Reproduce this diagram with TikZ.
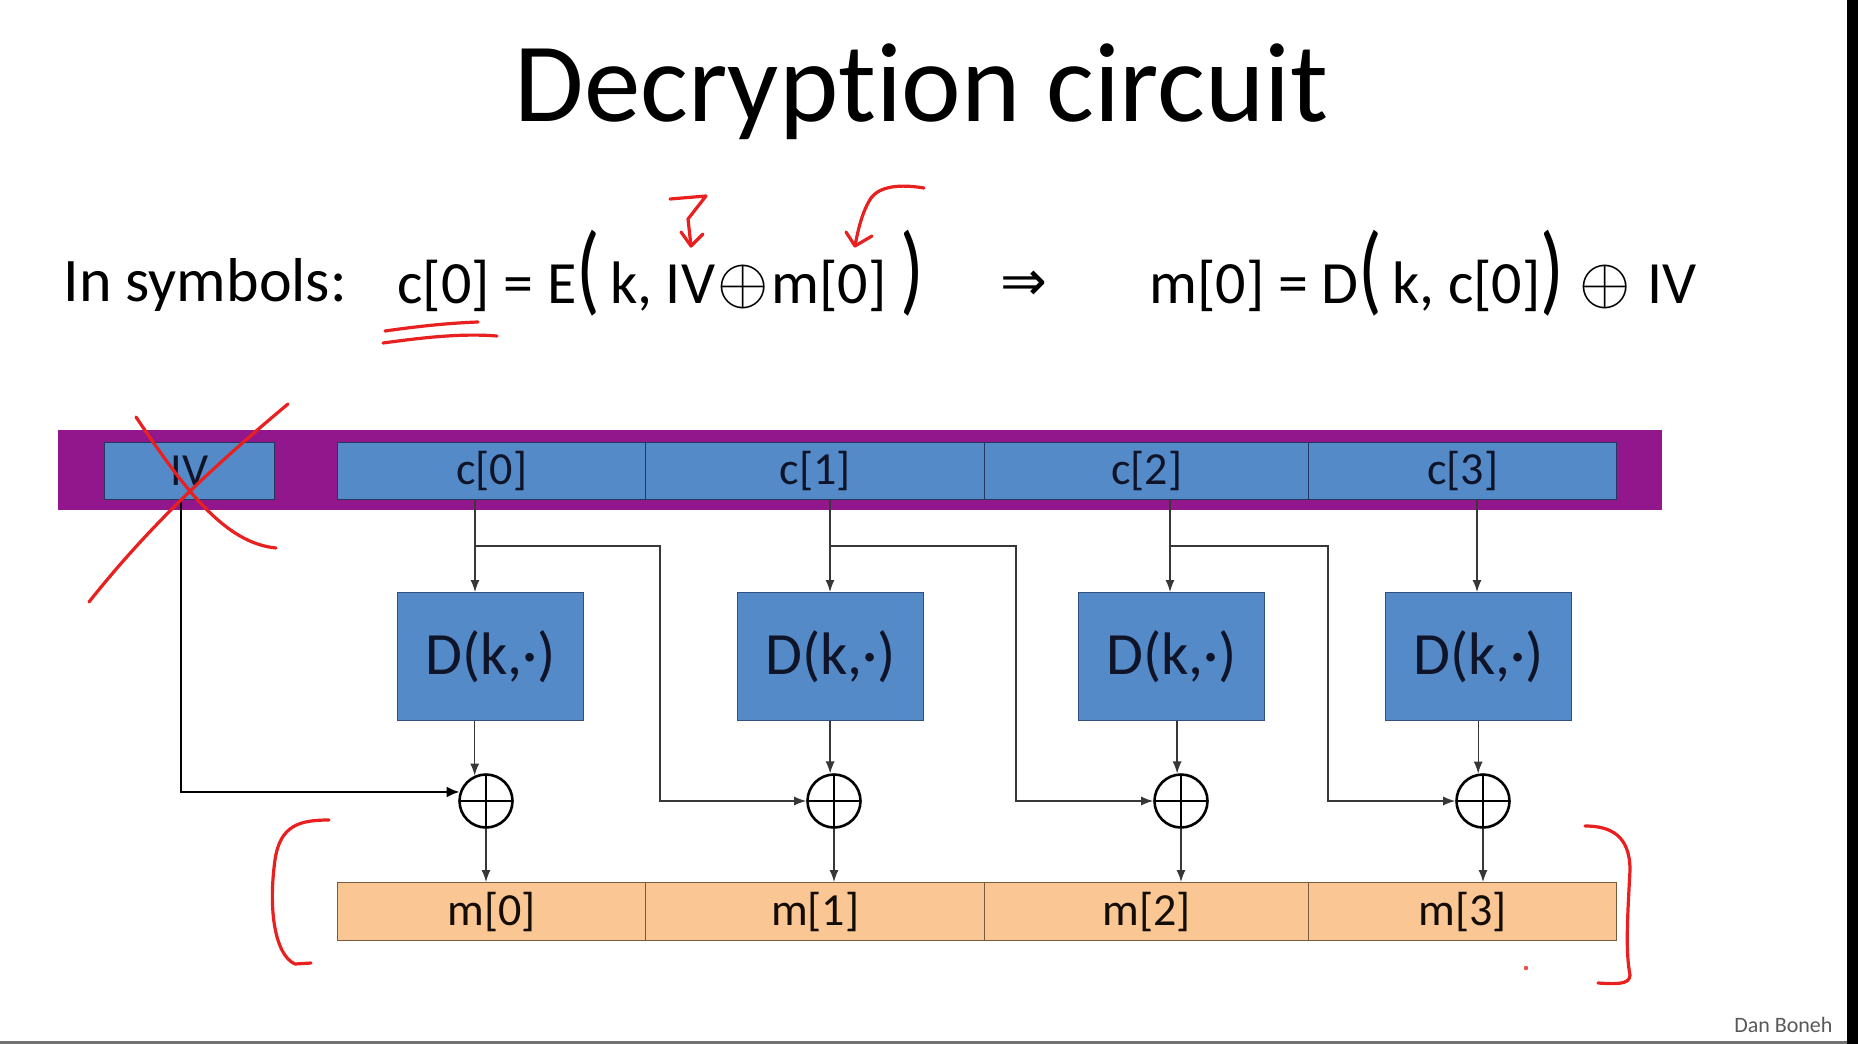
\documentclass[tikz,border=0pt]{standalone}
\usepackage{fontspec}
\usepackage{graphicx}
\setmainfont{Carlito}[Ligatures={NoCommon}]
\newfontfamily\symfont{DejaVu Sans}
\usetikzlibrary{arrows.meta,calc}
\definecolor{bandpurple}{RGB}{146,22,140}
\definecolor{boxblue}{RGB}{84,138,200}
\definecolor{boxedge}{RGB}{35,55,95}
\definecolor{msgfill}{RGB}{250,198,148}
\definecolor{msgedge}{RGB}{120,90,60}
\definecolor{inkred}{RGB}{232,32,32}
\definecolor{wirecol}{RGB}{55,55,55}
\definecolor{navytext}{RGB}{15,20,40}
\newcommand\bigparen[1]{\raisebox{1pt}{\scalebox{1.3}[1.65]{#1}}}
\newcommand\xorsym{\kern2pt\scalebox{6.6}{\fontsize{10}{12}\selectfont$\oplus$}\kern3pt}
\tikzset{
  cbox/.style={draw=boxedge, line width=1.4pt, fill=boxblue, minimum height=57pt, inner sep=0pt, anchor=north west, text=navytext, font=\fontsize{46}{46}\selectfont},
  dbox/.style={draw=boxedge!70!boxblue, line width=1.3pt, fill=boxblue, minimum width=186pt, minimum height=128pt, inner sep=0pt, anchor=north west, text=navytext, font=\fontsize{60}{60}\selectfont},
  mbox/.style={draw=msgedge, line width=1.3pt, fill=msgfill, minimum height=58pt, inner sep=0pt, anchor=north west, text=black!90!brown, font=\fontsize{46}{46}\selectfont},
  xorn/.style={circle, draw=black, line width=2.6pt, minimum size=53pt, inner sep=0pt,
    path picture={\draw[line width=2.4pt] (path picture bounding box.north) -- (path picture bounding box.south) (path picture bounding box.west) -- (path picture bounding box.east);}},
  wire/.style={draw=wirecol, line width=1.3pt},
  arr/.style={wire, -{Latex[length=12pt,width=9pt]}},
  ivarr/.style={draw=black, line width=2.6pt, -{Latex[length=13pt,width=11pt]}},
  redink/.style={draw=inkred, line width=3.2pt, line cap=round, line join=round},
  bigtext/.style={anchor=base west, font=\fontsize{62}{62}\selectfont},
}
\begin{document}
\begin{tikzpicture}[x=1pt,y=-1pt]
\fill[white] (0,0) rectangle (1858,1044);
\useasboundingbox (0,0) rectangle (1858,1044);
\fill[black] (1847,0) rectangle (1858,1044);
\fill[black!55] (0,1041) rectangle (1847,1044);

% title and formulas
\node[anchor=base west, font=\fontsize{113}{113}\selectfont] (title) at (511,121) {Decryption circuit};
\node[bigtext] (insym) at (60,301) {In symbols:};
\node[bigtext, font=\fontsize{60}{60}\selectfont] (eq1) at (394,303) {c[0] = E\bigparen{(}\,k, IV\xorsym m[0] \bigparen{)}};
\node[font=\symfont\fontsize{56}{56}\selectfont] (impl) at (1024,286) {⇒};
\node[bigtext, font=\fontsize{60}{60}\selectfont] (eq2) at (1146,303) {m[0] = D\bigparen{(}\,k, c[0]\bigparen{)} \xorsym{} IV};

% purple band and ciphertext blocks
\node[fill=bandpurple, minimum width=1604pt, minimum height=80pt, inner sep=0pt, anchor=north west] (band) at (58,430) {};
\node[cbox, minimum width=170pt] (IV) at (104,442) {IV};
\node[cbox, minimum width=308pt] (c0) at (337,442) {c[0]};
\node[cbox, minimum width=339pt] (c1) at (645,442) {c[1]};
\node[cbox, minimum width=324pt] (c2) at (984,442) {c[2]};
\node[cbox, minimum width=308pt] (c3) at (1308,442) {c[3]};

% decryption boxes
\node[dbox] (D0) at (397,592) {D(k,·)};
\node[dbox] (D1) at (737,592) {D(k,·)};
\node[dbox] (D2) at (1078,592) {D(k,·)};
\node[dbox] (D3) at (1385,592) {D(k,·)};

% xor gates
\node[xorn] (X0) at (486,801) {};
\node[xorn] (X1) at (834,801) {};
\node[xorn] (X2) at (1181,801) {};
\node[xorn] (X3) at (1483,801) {};

% plaintext blocks
\node[mbox, minimum width=308pt] (m0) at (337,882) {m[0]};
\node[mbox, minimum width=339pt] (m1) at (645,882) {m[1]};
\node[mbox, minimum width=324pt] (m2) at (984,882) {m[2]};
\node[mbox, minimum width=308pt] (m3) at (1308,882) {m[3]};

% tap points
\coordinate (ivt) at (181,499);
\coordinate (t0) at (475,499);
\coordinate (t1) at (830,499);
\coordinate (t2) at (1170,499);
\coordinate (t3) at (1477,499);
\coordinate (b0) at (660,546);
\coordinate (b1) at (1016,546);
\coordinate (b2) at (1328,546);

% ciphertext to D
\draw[arr] (t0) -- (t0 |- D0.north);
\draw[arr] (t1) -- (t1 |- D1.north);
\draw[arr] (t2) -- (t2 |- D2.north);
\draw[arr] (t3) -- (t3 |- D3.north);

% ciphertext branches to next xor
\draw[arr] (t0 |- b0) -- (b0) -- (b0 |- X1) -- (X1.west);
\draw[arr] (t1 |- b1) -- (b1) -- (b1 |- X2) -- (X2.west);
\draw[arr] (t2 |- b2) -- (b2) -- (b2 |- X3) -- (X3.west);

% IV to first xor
\draw[ivarr] (ivt) -- (ivt |- X0.161) -- (X0.161);

% D to xor
\draw[arr] (D0.south -| X0.114) -- (X0.114);
\draw[arr] (D1.south -| X1.98) -- (X1.98);
\draw[arr] (D2.south -| X2.98) -- (X2.98);
\draw[arr] (D3.south -| X3.100) -- (X3.100);

% xor to plaintext
\draw[arr] (X0.south) -- (X0.south |- m0.north);
\draw[arr] (X1.south) -- (X1.south |- m1.north);
\draw[arr] (X2.south) -- (X2.south |- m2.north);
\draw[arr] (X3.south) -- (X3.south |- m3.north);

% red handwriting
\draw[redink] (89,602) .. controls (150,525) and (215,465) .. (288,404);
\draw[redink] (136,417) .. controls (185,490) and (225,543) .. (276,548);
\draw[redink] (385,331) .. controls (420,326) and (450,323) .. (478,322);
\draw[redink] (383,343) .. controls (420,338) and (460,333) .. (497,336);
\draw[redink] (670,199) -- (706,196) -- (688,219) -- (691,246);
\draw[redink] (681,232) -- (691,246) -- (703,234);
\draw[redink] (924,188) .. controls (900,184) and (880,186) .. (871,198) .. controls (862,212) and (858,230) .. (855,246);
\draw[redink] (846,232) -- (855,246) -- (872,236);
\draw[redink] (329,820) .. controls (300,820) and (280,825) .. (275,860) .. controls (268,910) and (275,955) .. (295,964) -- (311,963);
\draw[redink] (1585,826) .. controls (1610,826) and (1630,835) .. (1630,870) .. controls (1628,910) and (1625,950) .. (1630,975) .. controls (1630,985) and (1615,984) .. (1598,983);
\fill[inkred!80] (1526,968) circle (2.2pt);

\node[anchor=base east, font=\fontsize{22}{22}\selectfont, text=black!65] (author) at (1836,1032) {Dan Boneh};
\end{tikzpicture}
\end{document}
